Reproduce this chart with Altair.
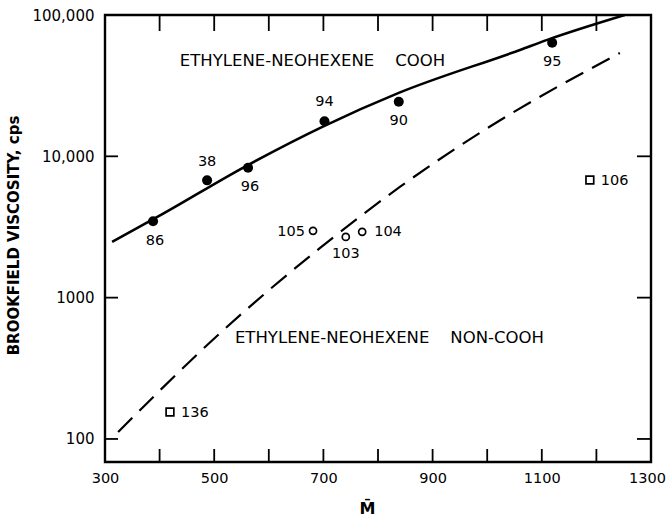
import altair as alt
import pandas as pd

# --- data ---
cooh_ids = ["86", "38", "96", "94", "90", "95"]
cooh_m = [388, 487, 562, 702, 838, 1119]
cooh_visc = [3470, 6760, 8300, 17700, 24300, 63600]

open_ids = ["105", "103", "104"]
open_m = [681, 741, 771]
open_visc = [2970, 2690, 2920]

sq_ids = ["106", "136"]
sq_m = [1188, 419]
sq_visc = [6800, 155]

solid_m = [313, 400, 560, 700, 838, 1060, 1110, 1252]
solid_visc = [2480, 3800, 8600, 16300, 28100, 56600, 66700, 100000]

dash_m = [324, 511, 694, 840, 987, 1243]
dash_visc = [112, 562, 2250, 6070, 14700, 53900]

x_ticks = [400, 500, 600, 700, 800, 900, 1000, 1100, 1200]
x_labels = [300, 500, 700, 900, 1100, 1300]
y_ticks = [100, 1000, 10000]
y_labels = [100, 1000, 10000, 100000]

curve_names = ["ETHYLENE-NEOHEXENE\u00a0\u00a0\u00a0\u00a0COOH",
               "ETHYLENE-NEOHEXENE\u00a0\u00a0\u00a0\u00a0NON-COOH"]
curve_name_m = [437, 538]
curve_name_visc = [47300, 519]

# label placement (styling, kept separate)
label_offsets = {
    "86": (2, 20, "center"), "38": (0, -18, "center"), "96": (2, 19, "center"),
    "94": (0, -19, "center"), "90": (0, 19, "center"), "95": (0, 19, "center"),
    "105": (-8, 1, "right"), "103": (0, 17, "center"), "104": (12, 0, "left"),
    "106": (11, 1, "left"), "136": (11, 1, "left"),
}

W, H = 546, 447
FONT = "DejaVu Sans"

xs = alt.Scale(domain=[300, 1300], nice=False, zero=False)
ys = alt.Scale(type="log", domain=[68.7, 100000], nice=False)

cooh = pd.DataFrame({"id": cooh_ids, "m": cooh_m, "v": cooh_visc})
opn = pd.DataFrame({"id": open_ids, "m": open_m, "v": open_visc})
sq = pd.DataFrame({"id": sq_ids, "m": sq_m, "v": sq_visc})
solid = pd.DataFrame({"m": solid_m, "v": solid_visc})
dash = pd.DataFrame({"m": dash_m, "v": dash_visc})
names = pd.DataFrame({"t": curve_names, "m": curve_name_m, "v": curve_name_visc})

labels = pd.concat([cooh, opn, sq], ignore_index=True)
labels["dx"] = [label_offsets[i][0] for i in labels["id"]]
labels["dy"] = [label_offsets[i][1] for i in labels["id"]]
labels["al"] = [label_offsets[i][2] for i in labels["id"]]

X = lambda **kw: alt.X("m:Q", scale=xs, **kw)
Y = lambda **kw: alt.Y("v:Q", scale=ys, **kw)

base_axes = alt.Chart(pd.DataFrame({"m": [300], "v": [100]})).mark_point(opacity=0).encode(
    x=X(axis=alt.Axis(values=x_labels, ticks=False, domain=False, grid=False, format="d",
                      labelFlush=False, labelFont=FONT, labelFontSize=14.5, labelPadding=9,
                      labelColor="black",
                      labelOffset={"condition": {"test": "datum.value == 1300", "value": -4}, "value": 0},
                      title="M\u0304", titleFont=FONT, titleFontSize=16, titleFontWeight="bold",
                      titleX=262, titleY=46, titleBaseline="middle", titleColor="black")),
    y=Y(axis=alt.Axis(values=y_labels, ticks=False, domain=False, grid=False,
                      labelExpr="datum.value >= 10000 ? format(datum.value, ',') : format(datum.value, 'd')",
                      labelFont=FONT, labelFontSize=15, labelPadding=11, labelColor="black",
                      title="BROOKFIELD VISCOSITY, cps", titleFont=FONT, titleFontSize=15,
                      titleFontWeight="bold", titleX=-92, titleY=220, titleAngle=-90,
                      titleAlign="center", titleBaseline="middle", titleColor="black")),
)

xt = pd.DataFrame({"m": x_ticks})
yt = pd.DataFrame({"v": y_ticks})
tick_b = alt.Chart(xt).mark_rule(color="black", strokeWidth=1.8).encode(
    x=X(), y=alt.value(H), y2=alt.value(H - 13))
tick_t = alt.Chart(xt).mark_rule(color="black", strokeWidth=1.8).encode(
    x=X(), y=alt.value(0), y2=alt.value(16))
tick_l = alt.Chart(yt).mark_rule(color="black", strokeWidth=1.8).encode(
    y=Y(), x=alt.value(0), x2=alt.value(13))
tick_r = alt.Chart(yt).mark_rule(color="black", strokeWidth=1.8).encode(
    y=Y(), x=alt.value(W), x2=alt.value(W - 14))

solid_line = alt.Chart(solid).mark_line(color="black", strokeWidth=2.6, interpolate="monotone", clip=True).encode(
    x=X(), y=Y())
dash_line = alt.Chart(dash).mark_line(color="black", strokeWidth=2.2, strokeDash=[20, 10],
                                      interpolate="monotone").encode(x=X(), y=Y())

filled = alt.Chart(cooh).mark_point(shape="circle", filled=True, color="black", size=100, opacity=1).encode(
    x=X(), y=Y())
open_c = alt.Chart(opn).mark_point(shape="circle", filled=False, color="black", size=50,
                                   strokeWidth=1.7, opacity=1).encode(x=X(), y=Y())
open_s = alt.Chart(sq).mark_point(shape="square", filled=False, color="black", size=60,
                                  strokeWidth=1.7, opacity=1).encode(x=X(), y=Y())

text_layers = []
for al in ["center", "left", "right"]:
    d = labels[labels["al"] == al]
    for (dx, dy), g in d.groupby(["dx", "dy"]):
        text_layers.append(
            alt.Chart(g).mark_text(font=FONT, fontSize=14.5, color="black", align=al,
                                   baseline="middle", dx=int(dx), dy=int(dy)).encode(
                x=X(), y=Y(), text="id:N"))

name_text = alt.Chart(names).mark_text(font=FONT, fontSize=16.5, color="black", align="left",
                                       baseline="middle").encode(x=X(), y=Y(), text="t:N")

chart = alt.layer(base_axes, tick_b, tick_t, tick_l, tick_r, solid_line, dash_line,
                  filled, open_c, open_s, name_text, *text_layers).properties(
    width=W, height=H,
    padding={"left": 105, "top": 15, "right": 16, "bottom": 63},
    autosize=alt.AutoSizeParams(type="none"),
    background="white",
).configure_view(stroke="black", strokeWidth=2.4)

chart.save("out.html", embed_options={"renderer": "svg", "actions": False})
